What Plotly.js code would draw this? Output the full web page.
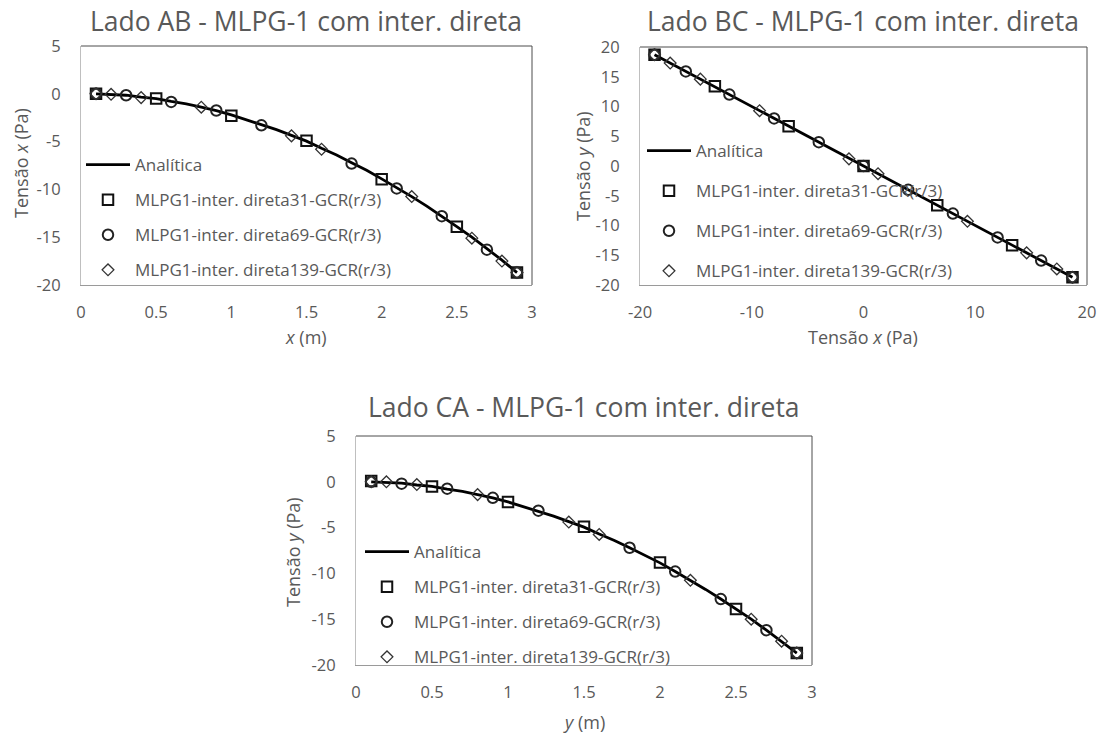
<!DOCTYPE html>
<html>
<head>
<meta charset="utf-8">
<script src="https://cdn.plot.ly/plotly-3.0.1.min.js"></script>
<style>html,body{margin:0;padding:0;background:#fff;}#chart{width:1105px;height:740px;}</style>
</head>
<body>
<div id="chart"></div>
<script>
// ---------- Lado AB ----------
const abXLine = [0.1,0.2,0.3,0.4,0.5,0.6,0.7,0.8,0.9,1.0,1.1,1.2,1.3,1.4,1.5,1.6,1.7,1.8,1.9,2.0,2.1,2.2,2.3,2.4,2.5,2.6,2.7,2.8,2.9];
const abYLine = [0,-0.05,-0.15,-0.35,-0.5,-0.8,-1.05,-1.4,-1.75,-2.2,-2.7,-3.2,-3.75,-4.35,-4.95,-5.7,-6.4,-7.2,-8.0,-8.9,-9.8,-10.75,-11.75,-12.8,-13.9,-15.0,-16.2,-17.4,-18.7];
const abX31 = [0.1,0.5,1.0,1.5,2.0,2.5,2.9];
const abY31 = [0.0,-0.5,-2.3,-4.9,-8.95,-13.9,-18.7];
const abX69 = [0.1,0.3,0.6,0.9,1.2,1.8,2.1,2.4,2.7,2.9];
const abY69 = [0.0,-0.15,-0.85,-1.75,-3.3,-7.3,-9.9,-12.8,-16.3,-18.7];
const abX139 = [0.1,0.2,0.4,0.8,1.4,1.6,2.2,2.6,2.8,2.9];
const abY139 = [0.0,-0.05,-0.4,-1.4,-4.4,-5.8,-10.75,-15.1,-17.5,-18.7];

// ---------- Lado BC ----------
const bcXLine = [-18.7,-13.3,-6.7,0,6.7,13.3,18.7];
const bcYLine = [18.7,13.3,6.7,0,-6.7,-13.3,-18.7];
const bcX31 = [-18.7,-13.3,-6.7,0,6.6,13.3,18.7];
const bcY31 = [18.7,13.4,6.7,0,-6.6,-13.3,-18.7];
const bcX69 = [-18.7,-15.9,-12.0,-8.0,-4.0,0,4.0,8.0,12.0,15.9,18.7];
const bcY69 = [18.7,15.9,12.0,8.0,4.0,0,-4.0,-8.0,-12.0,-15.9,-18.7];
const bcX139 = [-18.7,-17.3,-14.6,-9.3,-1.3,1.3,9.3,14.6,17.3,18.7];
const bcY139 = [18.7,17.3,14.6,9.3,1.2,-1.3,-9.3,-14.6,-17.3,-18.7];

// ---------- Lado CA ----------
const caXLine = [0.1,0.2,0.3,0.4,0.5,0.6,0.7,0.8,0.9,1.0,1.1,1.2,1.3,1.4,1.5,1.6,1.7,1.8,1.9,2.0,2.1,2.2,2.3,2.4,2.5,2.6,2.7,2.8,2.9];
const caYLine = [0,-0.05,-0.15,-0.35,-0.5,-0.8,-1.05,-1.4,-1.75,-2.2,-2.7,-3.2,-3.75,-4.35,-4.95,-5.7,-6.4,-7.2,-8.0,-8.85,-9.8,-10.75,-11.75,-12.8,-13.9,-15.0,-16.2,-17.4,-18.7];
const caX31 = [0.1,0.5,1.0,1.5,2.0,2.5,2.9];
const caY31 = [0.1,-0.5,-2.2,-4.9,-8.8,-13.9,-18.7];
const caX69 = [0.1,0.3,0.6,0.9,1.2,1.8,2.1,2.4,2.7,2.9];
const caY69 = [0.0,-0.2,-0.75,-1.75,-3.15,-7.2,-9.8,-12.8,-16.2,-18.7];
const caX139 = [0.1,0.2,0.4,0.8,1.4,1.6,2.2,2.6,2.8,2.9];
const caY139 = [0.0,0.0,-0.3,-1.4,-4.4,-5.75,-10.75,-15.0,-17.4,-18.7];

// ---------- labels ----------
const seriesNames = ["Analítica","MLPG1-inter. direta31-GCR(r/3)","MLPG1-inter. direta69-GCR(r/3)","MLPG1-inter. direta139-GCR(r/3)"];
const titles = ["Lado AB - MLPG-1 com inter. direta","Lado BC - MLPG-1 com inter. direta","Lado CA - MLPG-1 com inter. direta"];
const xTitles = ["<i>x</i> (m)","Tensão <i>x</i> (Pa)","<i>y</i> (m)"];
const yTitles = ["Tensão <i>x</i> (Pa)","Tensão <i>y</i> (Pa)","Tensão <i>y</i> (Pa)"];
const tickM = [0,0.5,1,1.5,2,2.5,3];
const tickMText = ["0","0.5","1","1.5","2","2.5","3"];
const tickT1 = [5,0,-5,-10,-15,-20];
const tickT1Text = ["5","0","-5","-10","-15","-20"];
const tickBCx = [-20,-10,0,10,20];
const tickBCxText = ["-20","-10","0","10","20"];
const tickBCy = [20,15,10,5,0,-5,-10,-15,-20];
const tickBCyText = ["20","15","10","5","0","-5","-10","-15","-20"];

const FONT = "'Open Sans', sans-serif";
const GREY = "#595959";
const W = 1105, H = 740;
const px = v => v / W;
const py = v => 1 - v / H;

function set(xa, ya, leg, xl, yl, x31, y31, x69, y69, x139, y139) {
  return [
    {x: xl, y: yl, xaxis: xa, yaxis: ya, legend: leg, legendgroup: leg + "a", name: seriesNames[0], mode: "lines", line: {color: "#000", width: 2.8}},
    {x: x31, y: y31, xaxis: xa, yaxis: ya, legend: leg, legendgroup: leg + "b", name: seriesNames[1], mode: "markers", marker: {symbol: "square-open", size: 10.5, color: "#111", line: {width: 2}}},
    {x: x69, y: y69, xaxis: xa, yaxis: ya, legend: leg, legendgroup: leg + "c", name: seriesNames[2], mode: "markers", marker: {symbol: "circle-open", size: 10.5, color: "#222", line: {width: 2}}},
    {x: x139, y: y139, xaxis: xa, yaxis: ya, legend: leg, legendgroup: leg + "d", name: seriesNames[3], mode: "markers", marker: {symbol: "diamond-open", size: 9, color: "#333", line: {width: 1.3}}}
  ];
}

const traces = [
  ...set("x", "y", "legend", abXLine, abYLine, abX31, abY31, abX69, abY69, abX139, abY139),
  ...set("x2", "y2", "legend2", bcXLine, bcYLine, bcX31, bcY31, bcX69, bcY69, bcX139, bcY139),
  ...set("x3", "y3", "legend3", caXLine, caYLine, caX31, caY31, caX69, caY69, caX139, caY139)
];

function axis(domain, range, tv, tt, anchor, isY) {
  return {
    domain: domain, range: range, anchor: anchor,
    tickmode: "array", tickvals: tv, ticktext: tt,
    showgrid: false, zeroline: false, showline: true, mirror: false,
    linecolor: isY ? "#bfbfbf" : "#9a9a9a", linewidth: 1, ticks: "",
    ticklabelstandoff: isY ? 16 : 12,
    tickfont: {family: FONT, size: 16.5, color: GREY},
    fixedrange: true
  };
}

function legend(x, y, gap) {
  return {x: px(x), y: py(y), xanchor: "left", yanchor: "top", bgcolor: "rgba(0,0,0,0)",
    font: {family: FONT, size: 17, color: GREY}, traceorder: "grouped", tracegroupgap: gap, itemwidth: 44};
}

const ann = [];
function addText(text, x, y, size, angle) {
  ann.push({text: text, x: px(x), y: py(y), xref: "paper", yref: "paper", xanchor: "center", yanchor: "middle",
    showarrow: false, textangle: angle || 0, font: {family: FONT, size: size, color: GREY}});
}
addText(titles[0], 306, 21, 26.5);
addText(titles[1], 863, 21, 26.5);
addText(titles[2], 584, 407, 26.5);
addText(xTitles[0], 306, 337, 18);
addText(xTitles[1], 863, 337, 18);
addText(xTitles[2], 584, 722, 18);
addText(yTitles[0], 21, 163, 18, -90);
addText(yTitles[1], 583, 166, 18, -90);
addText(yTitles[2], 293, 552, 18, -90);

const boxes = [[81, 532, 46, 285], [640, 1087, 47, 285], [356, 812, 436, 665]];
const shapes = [];
boxes.forEach(b => {
  shapes.push({type: "line", xref: "paper", yref: "paper", x0: px(b[0]), x1: px(b[1]), y0: py(b[2]), y1: py(b[2]), line: {color: "#4d4d4d", width: 1}});
  shapes.push({type: "line", xref: "paper", yref: "paper", x0: px(b[1]), x1: px(b[1]), y0: py(b[2]), y1: py(b[3]), line: {color: "#4d4d4d", width: 1}});
});

const layout = {
  width: W, height: H,
  margin: {l: 0, r: 0, t: 0, b: 0},
  paper_bgcolor: "#fff", plot_bgcolor: "#fff",
  showlegend: true,
  xaxis: axis([px(81), px(532)], [0, 3], tickM, tickMText, "y", false),
  yaxis: axis([py(285), py(46)], [-20, 5], tickT1, tickT1Text, "x", true),
  xaxis2: axis([px(640), px(1087)], [-20, 20], tickBCx, tickBCxText, "y2", false),
  yaxis2: axis([py(285), py(47)], [-20, 20], tickBCy, tickBCyText, "x2", true),
  xaxis3: axis([px(356), px(812)], [0, 3], tickM, tickMText, "y3", false),
  yaxis3: axis([py(665), py(436)], [-20, 5], tickT1, tickT1Text, "x3", true),
  legend: legend(81, 147, 10),
  legend2: legend(642, 133, 15),
  legend3: legend(360, 534, 10),
  shapes: shapes,
  annotations: ann
};

Plotly.newPlot("chart", traces, layout, {displayModeBar: false, staticPlot: true});
</script>
</body>
</html>
